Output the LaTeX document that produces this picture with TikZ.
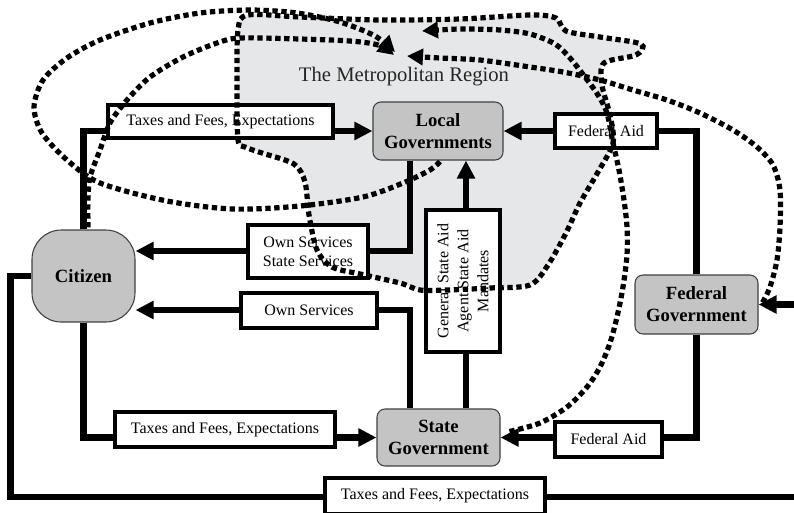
\documentclass[tikz,border=0pt]{standalone}
\usepackage{fontspec}
\setmainfont{Liberation Serif}
\usetikzlibrary{arrows.meta,calc}
\definecolor{regiongrey}{HTML}{E6E7E8}
\definecolor{govgrey}{HTML}{C4C4C4}
\begin{document}
\begin{tikzpicture}[x=0.75pt,y=-0.75pt,
  govbox/.style={draw=black!75, line width=0.8pt, fill=govgrey, align=center,
    inner sep=0pt, font=\fontsize{14}{16.5}\selectfont\bfseries},
  lblbox/.style={draw=black, line width=2.4pt, fill=white, align=center,
    inner sep=0pt, font=\fontsize{12}{14.4}\selectfont},
  link/.style={line width=4.6pt},
  conn/.style={link, -{Triangle[length=13.5pt,width=13pt]}},
  dotline/.style={line width=3.9pt, dash pattern=on 4pt off 2.7pt},
  dotarrow/.style={dotline, -{Triangle[length=12pt,width=12pt]}},
]
\useasboundingbox (0,0) rectangle (794,512);
\clip (0,0) rectangle (794,512);

% shaded metropolitan region
\fill[regiongrey] plot[smooth cycle, tension=0.5] coordinates {
  (238,140) (237,90) (238,30) (248,15) (300,17) (380,20) (460,19) (530,15)
  (556,18) (566,31) (600,37) (641,44) (636,55) (604,63) (602,85) (610,115)
  (613,143) (598,172) (580,203) (566,233) (548,265) (530,285) (490,288)
  (447,290) (420,290) (400,283) (360,274) (332,267) (317,250) (309,215)
  (305,182) (294,164) (262,153) (245,147)};

\node[font=\fontsize{15.5}{18}\selectfont, text=black!85] (title) at (404,77)
  {The Metropolitan Region};

% governments and citizen
\node[govbox, minimum width=97.5pt, minimum height=43.5pt, rounded corners=6pt]
  (loc) at (438,131) {Local\\Governments};
\node[govbox, minimum width=77.25pt, minimum height=69pt, rounded corners=22pt]
  (cit) at (83.5,276) {Citizen};
\node[govbox, minimum width=92.25pt, minimum height=42.75pt, rounded corners=6pt]
  (st) at (438.5,437.5) {State\\Government};
\node[govbox, minimum width=92.25pt, minimum height=44.25pt, rounded corners=6pt]
  (fed) at (696.5,304.5) {Federal\\Government};

% flows between them
\coordinate (k1) at (410,251);
\coordinate (k2) at (410,310);
\coordinate (k3) at (466,300);
\coordinate (k4) at (806,497);
\draw[conn] (cit.north) |- (loc.west);
\draw[conn] (fed.north) |- (loc.east);
\draw[conn] (loc.south -| k1) |- (cit.east |- k1);
\draw[conn] (st.north -| k2) |- (cit.east |- k2);
\draw[conn] (st.north -| k3) -- (loc.south -| k3);
\draw[conn] (cit.south) |- (st.west);
\draw[conn] (fed.south) |- (st.east);
\draw[conn] (cit.west) -- ++(-21,0) |- (k4) |- (fed.east);

% flow labels
\node[lblbox, minimum width=168.75pt, minimum height=24.75pt] (tx1) at (220.5,121.5)
  {Taxes and Fees, Expectations};
\node[lblbox, minimum width=76.5pt, minimum height=25.5pt] (fa1) at (606,131)
  {Federal Aid};
\node[lblbox, minimum width=90pt, minimum height=39.75pt] (os1) at (308,251.5)
  {Own Services\\State Services};
\node[lblbox, minimum width=102pt, minimum height=26.25pt] (os2) at (309,310.5)
  {Own Services};
\node[lblbox, minimum width=165pt, minimum height=26.25pt] (tx2) at (225,429.5)
  {Taxes and Fees, Expectations};
\node[lblbox, minimum width=80.25pt, minimum height=26.25pt] (fa2) at (608.5,439.5)
  {Federal Aid};
\node[lblbox, minimum width=165pt, minimum height=27pt] (tx3) at (435,496)
  {Taxes and Fees, Expectations};
\node[lblbox, rotate=90, minimum width=106.5pt, minimum height=55.5pt,
  font=\fontsize{12}{15}\selectfont] (gsa) at (463,281)
  {General State Aid\\Agent State Aid\\Mandates};

% boundary of the region
\draw[dotline] plot[smooth cycle, tension=0.5] coordinates {
  (238,140) (237,90) (238,30) (248,15) (300,17) (380,20) (460,19) (530,15)
  (556,18) (566,31) (600,37) (641,44) (636,55) (604,63) (602,85) (610,115)
  (613,143) (598,172) (580,203) (566,233) (548,265) (530,285) (490,288)
  (447,290) (420,290) (400,283) (360,274) (332,267) (317,250) (309,215)
  (305,182) (294,164) (262,153) (245,147)};

% influences on the region
\coordinate (c1s) at ($(loc.south)+(2,1)$);
\coordinate (c2s) at ($(cit.north)+(4.5,-2)$);
\coordinate (c3s) at ($(fed.east)+(4,-2)$);
\coordinate (c4s) at ($(st.east)+(9,-6)$);
\draw[dotarrow] plot[smooth, tension=0.5] coordinates {
  (c1s) (430,170) (403,183) (363,197) (300,206) (233,209) (167,201) (100,183)
  (67,160) (42,133) (34,107) (43,80) (67,58) (100,40) (150,23) (200,13)
  (250,10) (297,13) (340,22) (375,36) (395,52)};
\draw[dotarrow] plot[smooth, tension=0.5] coordinates {
  (c2s) (88,200) (90,177) (100,150) (110,123) (127,100) (150,77) (183,57)
  (217,43) (240,38) (300,39) (350,41) (378,45) (394,55)};
\draw[dotarrow] plot[smooth, tension=0.5] coordinates {
  (c3s) (770,287) (777,260) (780,227) (780,190) (773,165) (757,147) (733,130)
  (700,113) (667,100) (633,90) (600,80) (563,72) (530,67) (480,60) (440,58)
  (407,56)};
\draw[dotarrow] plot[smooth, tension=0.5] coordinates {
  (c4s) (540,423) (567,407) (587,387) (600,367) (610,343) (617,317) (623,287)
  (627,255) (627,227) (624,200) (619,170) (613,143) (607,113) (598,95)
  (585,77) (570,58) (555,44) (530,34) (500,30) (460,29) (422,31)};
\end{tikzpicture}
\end{document}
